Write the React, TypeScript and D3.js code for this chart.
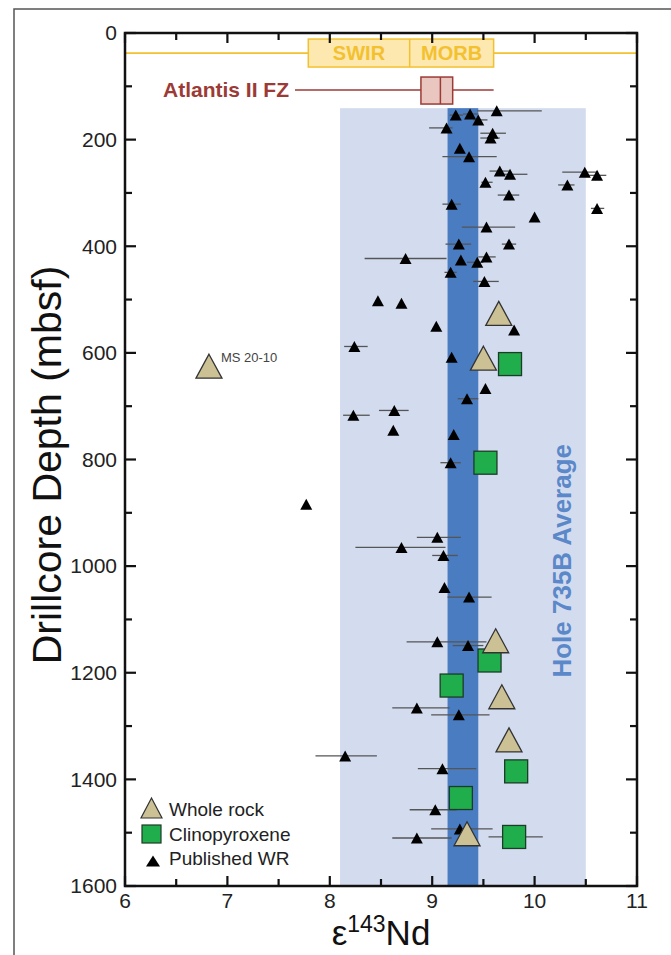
import React from "react";
import * as d3 from "d3";

// ---------- data ----------
const xTicks = [6, 7, 8, 9, 10, 11];
const yTicks = [0, 200, 400, 600, 800, 1000, 1200, 1400, 1600];

// SWIR MORB range [min, median, max] at depth
const swirMorb = [7.79, 8.78, 9.6];
const swirDepth = 37.6;
// Atlantis II FZ [whiskerMin, q1, median, q3, whiskerMax]
const atlantis = [7.66, 8.89, 9.08, 9.2, 9.6];
const atlantisDepth = 107;
// Hole 735B average: [min, max] of full range and of mean band
const holeRange = [8.1, 10.5];
const holeMean = [9.15, 9.45];
const holeTopDepth = 141;

// Whole rock (this study) [eNd, depth]
const wholeRock: number[][] = [
  [9.65, 526], [9.5, 610], [9.62, 1140], [9.68, 1245], [9.75, 1326], [9.34, 1502],
];
const msSample = [6.82, 625];
const msLabel = "MS 20-10";

// Clinopyroxene [eNd, depth, errLo, errHi]
const cpx: (number | null)[][] = [
  [9.76, 621, null, null], [9.52, 806, null, null], [9.56, 1177, null, null],
  [9.19, 1224, null, null], [9.82, 1385, null, null], [9.28, 1435, null, null],
  [9.8, 1508, 9.55, 10.08],
];

// Published whole rock [eNd, depth, errLo, errHi]
const published: (number | null)[][] = [
  [9.23, 154, 9.17, 9.3], [9.37, 152, 9.3, 9.45], [9.45, 163, 9.4, 9.54],
  [9.63, 146, 9.44, 10.07], [9.14, 178, 8.97, 9.2], [9.59, 188, 9.47, 9.72],
  [9.57, 197, 9.47, 9.66], [9.27, 216, null, null], [9.36, 232, 9.1, 9.63],
  [9.66, 259, 9.56, 9.76], [9.76, 265, 9.64, 9.93], [9.52, 280, 9.48, 9.59],
  [9.75, 304, 9.64, 9.85], [10.49, 261, 10.27, 10.62], [10.32, 285, 10.23, 10.39],
  [10.61, 267, 10.5, 10.7], [10.61, 329, 10.55, 10.68], [9.19, 321, 9.1, 9.28],
  [10.0, 345, null, null], [9.53, 364, 9.29, 9.81], [9.26, 396, 9.13, 9.38],
  [9.75, 396, 9.68, 9.82], [8.74, 423, 8.34, 9.14], [9.28, 426, null, null],
  [9.44, 430, 9.34, 9.5], [9.53, 420, 9.45, 9.62], [9.18, 449, 9.12, 9.24],
  [9.51, 466, 9.4, 9.65], [8.47, 502, null, null], [8.7, 507, null, null],
  [9.04, 550, null, null], [9.8, 557, null, null], [8.24, 588, 8.14, 8.37],
  [9.19, 608, null, null], [9.52, 667, null, null], [9.34, 686, 9.25, 9.45],
  [8.63, 708, 8.48, 8.77], [8.62, 745, null, null], [9.21, 753, null, null],
  [9.18, 806, 9.08, 9.28], [8.23, 717, 8.13, 8.39], [7.77, 884, null, null],
  [9.05, 946, 8.85, 9.28], [8.7, 965, 8.25, 9.13], [9.11, 980, 9.0, 9.25],
  [9.12, 1040, null, null], [9.36, 1058, 9.15, 9.58], [9.05, 1142, 8.75, 9.53],
  [9.35, 1149, 9.2, 9.5], [8.85, 1266, 8.61, 9.17], [9.26, 1279, 8.99, 9.56],
  [9.1, 1380, 8.86, 9.43], [9.03, 1457, 8.78, 9.24], [9.27, 1493, 8.99, 9.59],
  [8.85, 1510, 8.61, 9.19], [8.15, 1356, 7.86, 8.46],
];

const legendItems = ["Whole rock", "Clinopyroxene", "Published WR"];

// ---------- layout ----------
const W = 671;
const H = 955;
const FONT = "'Liberation Sans', Arial, Helvetica, sans-serif";

const x = d3.scaleLinear().domain([6, 11]).range([125, 637]);
const y = d3.scaleLinear().domain([0, 1600]).range([33, 886]);

const tri = (cx: number, cy: number, w: number, h: number) =>
  `M${cx},${cy - h / 2}L${cx + w / 2},${cy + h / 2}L${cx - w / 2},${cy + h / 2}Z`;

const TAN = "#cbc195";
const GREEN = "#1fae4b";
const YEL = "#f3c12f";
const RED = "#9c3b36";

export default function App() {
  const [x0, x1] = x.range();
  const [y0, y1] = y.range();
  const xMinor = d3.range(6, 11.01, 0.5);
  const yMinor = d3.range(0, 1601, 100);

  const swY = y(swirDepth);
  const atY = y(atlantisDepth);

  return (
    <svg
      width={W}
      height={H}
      style={{ position: "absolute", left: 0, top: 0, background: "#fff" }}
      fontFamily={FONT}
    >
      {/* outer frame */}
      <rect x={14} y={9} width={700} height={1000} fill="none" stroke="#555" strokeWidth={1.5} />

      {/* Hole 735B range */}
      <rect
        x={x(holeRange[0])}
        y={y(holeTopDepth)}
        width={x(holeRange[1]) - x(holeRange[0])}
        height={y1 - y(holeTopDepth)}
        fill="#d3dcef"
      />
      <rect
        x={x(holeMean[0])}
        y={y(holeTopDepth)}
        width={x(holeMean[1]) - x(holeMean[0])}
        height={y1 - y(holeTopDepth)}
        fill="#4a7cc1"
      />
      <text
        transform={`translate(${x(10.27)},${y(990)}) rotate(-90)`}
        textAnchor="middle"
        dy="0.35em"
        fontSize={26}
        fontWeight="bold"
        fill="#5b88c9"
      >
        Hole 735B Average
      </text>

      {/* SWIR MORB */}
      <line x1={x0} x2={x1} y1={swY} y2={swY} stroke={YEL} strokeWidth={1.8} />
      <rect
        x={x(swirMorb[0])}
        y={swY - 14}
        width={x(swirMorb[2]) - x(swirMorb[0])}
        height={28}
        fill="#fde8b0"
        stroke={YEL}
        strokeWidth={1.5}
      />
      <line x1={x(swirMorb[1])} x2={x(swirMorb[1])} y1={swY - 14} y2={swY + 14} stroke={YEL} strokeWidth={1.5} />
      <text x={(x(swirMorb[0]) + x(swirMorb[1])) / 2} y={swY + 7} textAnchor="middle" fontSize={20} fontWeight="bold" fill={YEL}>
        SWIR
      </text>
      <text x={(x(swirMorb[1]) + x(swirMorb[2])) / 2} y={swY + 7} textAnchor="middle" fontSize={20} fontWeight="bold" fill={YEL}>
        MORB
      </text>

      {/* Atlantis II FZ */}
      <line x1={x(atlantis[0])} x2={x(atlantis[4])} y1={atY} y2={atY} stroke={RED} strokeWidth={1.5} />
      <rect
        x={x(atlantis[1])}
        y={atY - 13}
        width={x(atlantis[3]) - x(atlantis[1])}
        height={27}
        fill="#e9c6bf"
        stroke={RED}
        strokeWidth={1.5}
      />
      <line x1={x(atlantis[2])} x2={x(atlantis[2])} y1={atY - 13} y2={atY + 14} stroke={RED} strokeWidth={1.5} />
      <text x={x(atlantis[0]) - 6} y={atY + 7} textAnchor="end" fontSize={21} fontWeight="bold" fill={RED}>
        Atlantis II FZ
      </text>

      {/* error bars */}
      {published
        .filter((d) => d[2] !== null)
        .map((d, i) => (
          <line key={"pe" + i} x1={x(d[2] as number)} x2={x(d[3] as number)} y1={y(d[1] as number)} y2={y(d[1] as number)} stroke="#555" strokeWidth={1.3} />
        ))}
      {cpx
        .filter((d) => d[2] !== null)
        .map((d, i) => (
          <line key={"ce" + i} x1={x(d[2] as number)} x2={x(d[3] as number)} y1={y(d[1] as number)} y2={y(d[1] as number)} stroke="#555" strokeWidth={1.3} />
        ))}

      {/* published WR */}
      {published.map((d, i) => (
        <path key={"p" + i} d={tri(x(d[0] as number), y(d[1] as number), 12, 11)} fill="#000" />
      ))}

      {/* clinopyroxene */}
      {cpx.map((d, i) => (
        <rect
          key={"c" + i}
          x={x(d[0] as number) - 11.5}
          y={y(d[1] as number) - 11.5}
          width={23}
          height={23}
          fill={GREEN}
          stroke="#1d3b27"
          strokeWidth={1.3}
        />
      ))}

      {/* whole rock */}
      {wholeRock.map((d, i) => (
        <path key={"w" + i} d={tri(x(d[0]), y(d[1]), 26, 24)} fill={TAN} stroke="#333" strokeWidth={1.3} />
      ))}
      <path d={tri(x(msSample[0]), y(msSample[1]), 26, 24)} fill={TAN} stroke="#333" strokeWidth={1.3} />
      <text x={x(msSample[0]) + 12} y={y(msSample[1]) - 4} fontSize={13} fill="#444">
        {msLabel}
      </text>

      {/* legend */}
      <path d={tri(151.5, 808, 21, 20)} fill={TAN} stroke="#333" strokeWidth={1.2} />
      <rect x={142} y={825} width={19} height={18} fill={GREEN} stroke="#1d3b27" strokeWidth={1.2} />
      <path d={tri(153, 861, 14, 11)} fill="#000" />
      {legendItems.map((t, i) => (
        <text key={t} x={169} y={816 + i * 24.5} fontSize={19} fill="#222">
          {t}
        </text>
      ))}

      {/* axes frame */}
      <rect x={x0} y={y0} width={x1 - x0} height={y1 - y0} fill="none" stroke="#111" strokeWidth={2.5} />

      {/* ticks */}
      {xMinor.map((v) => {
        const major = Math.abs(v - Math.round(v)) < 1e-6;
        const len = major ? 10 : 7;
        return (
          <g key={"xt" + v}>
            <line x1={x(v)} x2={x(v)} y1={y1} y2={y1 - len} stroke="#111" strokeWidth={2.2} />
            <line x1={x(v)} x2={x(v)} y1={y0} y2={y0 + len} stroke="#111" strokeWidth={2.2} />
          </g>
        );
      })}
      {yMinor.map((v) => {
        const major = v % 200 === 0;
        const len = major ? 11 : 7;
        return (
          <g key={"yt" + v}>
            <line x1={x0} x2={x0 + len} y1={y(v)} y2={y(v)} stroke="#111" strokeWidth={2.2} />
            <line x1={x1} x2={x1 - len} y1={y(v)} y2={y(v)} stroke="#111" strokeWidth={2.2} />
          </g>
        );
      })}
      {xTicks.map((v) => (
        <text key={"xl" + v} x={x(v)} y={y1 + 22} textAnchor="middle" fontSize={21} fill="#222">
          {v}
        </text>
      ))}
      {yTicks.map((v) => (
        <text key={"yl" + v} x={x0 - 8} y={y(v)} dy="0.35em" textAnchor="end" fontSize={21} fill="#222">
          {v}
        </text>
      ))}

      {/* axis titles */}
      <text transform={`translate(61,465) rotate(-90)`} textAnchor="middle" fontSize={41} fill="#111">
        Drillcore Depth (mbsf)
      </text>
      <text x={(x0 + x1) / 2} y={945} textAnchor="middle" fill="#111">
        <tspan fontSize={35}>ε</tspan>
        <tspan fontSize={23} dy={-13}>143</tspan>
        <tspan fontSize={35} dy={13}>Nd</tspan>
      </text>
    </svg>
  );
}
